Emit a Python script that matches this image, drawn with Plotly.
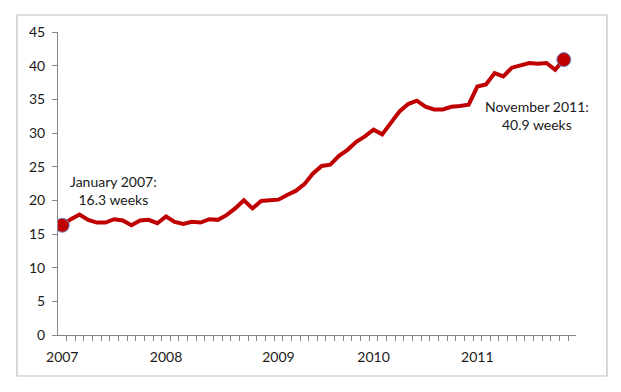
import plotly.graph_objects as go

# Average duration of unemployment (weeks), monthly Jan 2007 - Nov 2011
weeks_2007 = [16.3, 17.2, 17.9, 17.1, 16.7, 16.7, 17.2, 17.0, 16.3, 17.0, 17.1, 16.6]
weeks_2008 = [17.6, 16.8, 16.5, 16.8, 16.7, 17.2, 17.1, 17.8, 18.8, 20.0, 18.8, 19.9]
weeks_2009 = [20.0, 20.1, 20.8, 21.4, 22.4, 24.0, 25.1, 25.3, 26.6, 27.5, 28.7, 29.5]
weeks_2010 = [30.5, 29.8, 31.5, 33.2, 34.3, 34.8, 33.9, 33.5, 33.5, 33.9, 34.0, 34.2]
weeks_2011 = [36.9, 37.2, 38.9, 38.4, 39.7, 40.0, 40.4, 40.3, 40.4, 39.4, 40.9]

values = weeks_2007 + weeks_2008 + weeks_2009 + weeks_2010 + weeks_2011
months = list(range(len(values)))

year_labels = ["2007", "2008", "2009", "2010", "2011"]
year_label_pos = [0, 12, 25, 36, 48]

y_ticks = [0, 5, 10, 15, 20, 25, 30, 35, 40, 45]

first_label = "January 2007:<br>16.3 weeks"
last_label = "November 2011:<br>40.9 weeks"

FONT = "Lato, Calibri, Carlito, sans-serif"
AXIS = "#868686"
RED = "#C00000"

fig = go.Figure()
fig.add_trace(go.Scatter(
    x=months, y=values, mode="lines",
    line=dict(color=RED, width=4), hoverinfo="skip", showlegend=False,
))
fig.add_trace(go.Scatter(
    x=[months[0], months[-1]], y=[values[0], values[-1]], mode="markers",
    marker=dict(color=RED, size=14, line=dict(color="#6A8CC8", width=1)),
    hoverinfo="skip", showlegend=False,
))

fig.add_annotation(x=months[0], y=values[0], text=first_label, showarrow=False,
                   xshift=51, yshift=35, font=dict(family=FONT, size=14, color="#1a1a1a"))
fig.add_annotation(x=months[-1], y=values[-1], text=last_label, showarrow=False,
                   xshift=-27, yshift=-56, font=dict(family=FONT, size=14, color="#1a1a1a"))

# outer chart border
fig.add_shape(type="rect", xref="paper", yref="paper",
              x0=-0.0792, x1=1.0598, y0=-0.1353, y1=1.0561,
              line=dict(color="#BFBFBF", width=1.2), layer="below")

fig.update_layout(
    width=613, height=384,
    margin=dict(l=50, r=45, t=24, b=57),
    paper_bgcolor="white", plot_bgcolor="white",
    font=dict(family=FONT, size=14, color="#1a1a1a"),
    xaxis=dict(
        range=[-0.49, 59.41], showgrid=False, zeroline=False,
        showline=True, linecolor=AXIS, linewidth=1,
        tickmode="array", tickvals=year_label_pos, ticktext=year_labels,
        ticks="outside", ticklen=9, tickcolor="rgba(0,0,0,0)",
        tickfont=dict(family=FONT, size=14, color="#1a1a1a"),
        minor=dict(tickmode="linear", tick0=-0.5, dtick=1, ticks="outside",
                   ticklen=5, tickcolor=AXIS, tickwidth=1, showgrid=False),
    ),
    yaxis=dict(
        range=[0, 45], showgrid=False, zeroline=False,
        showline=True, linecolor=AXIS, linewidth=1,
        tickmode="array", tickvals=y_ticks,
        ticks="outside", ticklen=5, tickcolor=AXIS, ticklabelstandoff=4,
        tickfont=dict(family=FONT, size=14, color="#1a1a1a"),
    ),
)

fig.write_html("out.html")
